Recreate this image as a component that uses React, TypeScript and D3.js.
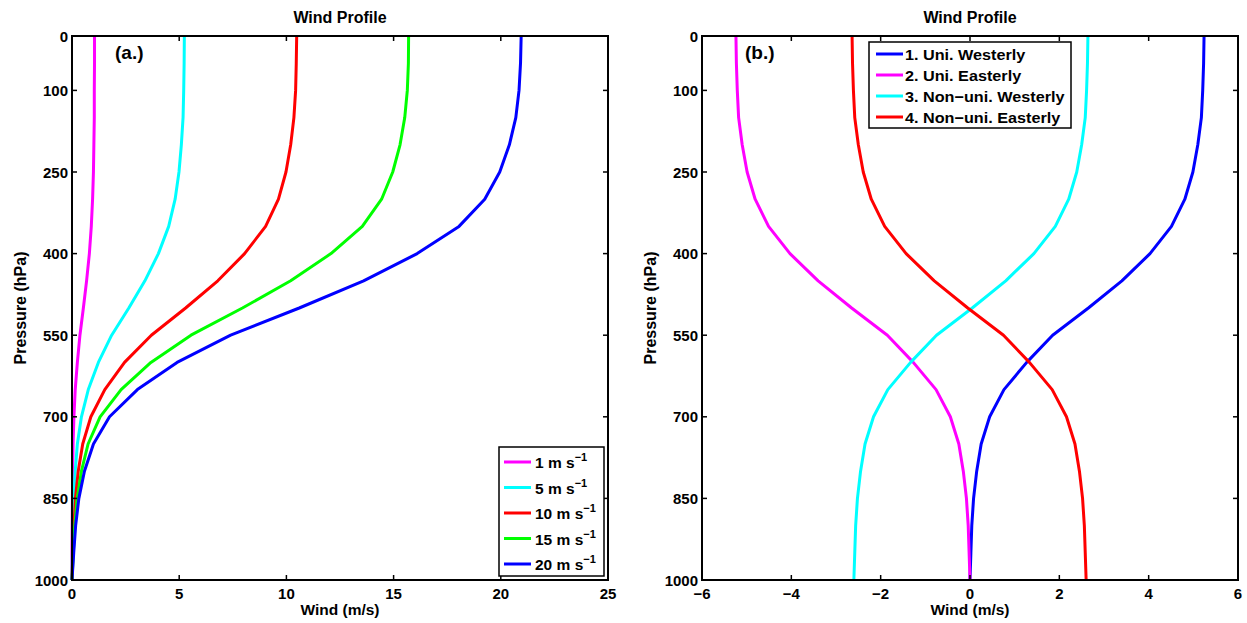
import React from 'react';
import * as d3 from 'd3';

// pressure levels (hPa)
const levels = [0, 50, 100, 150, 200, 250, 300, 350, 400, 450, 500, 550, 600, 650, 700, 750, 800, 850, 900, 950, 1000];

// panel (a.) : wind speed for each surface forcing
const u1 = [1.05, 1.05, 1.04, 1.04, 1.02, 1.0, 0.96, 0.9, 0.81, 0.68, 0.53, 0.37, 0.25, 0.15, 0.09, 0.05, 0.03, 0.02, 0.01, 0.0, 0.0];
const u5 = [5.24, 5.23, 5.21, 5.18, 5.1, 4.99, 4.81, 4.51, 4.03, 3.4, 2.65, 1.85, 1.23, 0.76, 0.44, 0.25, 0.15, 0.08, 0.04, 0.02, 0.0];
const u10 = [10.48, 10.46, 10.43, 10.35, 10.2, 9.98, 9.63, 9.03, 8.05, 6.8, 5.3, 3.7, 2.45, 1.53, 0.88, 0.5, 0.29, 0.16, 0.09, 0.04, 0.0];
const u15 = [15.7, 15.69, 15.64, 15.52, 15.3, 14.96, 14.44, 13.54, 12.08, 10.2, 7.95, 5.55, 3.68, 2.29, 1.31, 0.75, 0.44, 0.24, 0.13, 0.06, 0.0];
const u20 = [20.95, 20.92, 20.85, 20.7, 20.4, 19.95, 19.25, 18.05, 16.1, 13.6, 10.6, 7.4, 4.9, 3.05, 1.75, 1.0, 0.58, 0.32, 0.17, 0.08, 0.0];

// panel (b.) : four profile types
const uniWest = [5.24, 5.23, 5.21, 5.18, 5.1, 4.99, 4.81, 4.51, 4.03, 3.4, 2.65, 1.85, 1.27, 0.76, 0.44, 0.25, 0.15, 0.08, 0.04, 0.02, 0.0];
const uniEast = [-5.24, -5.23, -5.21, -5.18, -5.1, -4.99, -4.81, -4.51, -4.03, -3.4, -2.65, -1.85, -1.27, -0.76, -0.44, -0.25, -0.15, -0.08, -0.04, -0.02, 0.0];
const nonWest = [2.64, 2.63, 2.61, 2.58, 2.5, 2.39, 2.21, 1.91, 1.43, 0.8, 0.05, -0.75, -1.33, -1.84, -2.16, -2.35, -2.45, -2.52, -2.56, -2.58, -2.6];
const nonEast = [-2.64, -2.63, -2.61, -2.58, -2.5, -2.39, -2.21, -1.91, -1.43, -0.8, -0.05, 0.75, 1.33, 1.84, 2.16, 2.35, 2.45, 2.52, 2.56, 2.58, 2.6];

const pTicks = [0, 100, 250, 400, 550, 700, 850, 1000];
const xTicksA = [0, 5, 10, 15, 20, 25];
const xTicksB = [-6, -4, -2, 0, 2, 4, 6];

const seriesA = [
  { name: '1', values: u1, color: '#ff00ff' },
  { name: '5', values: u5, color: '#00ffff' },
  { name: '10', values: u10, color: '#ff0000' },
  { name: '15', values: u15, color: '#00ff00' },
  { name: '20', values: u20, color: '#0000ff' },
];
const seriesB = [
  { name: '1. Uni. Westerly', values: uniWest, color: '#0000ff' },
  { name: '2. Uni. Easterly', values: uniEast, color: '#ff00ff' },
  { name: '3. Non\u2212uni. Westerly', values: nonWest, color: '#00ffff' },
  { name: '4. Non\u2212uni. Easterly', values: nonEast, color: '#ff0000' },
];

const FONT = '"Liberation Sans", Arial, Helvetica, sans-serif';
const top = 36, bottom = 580;

function Panel({ left, right, domain, ticks, series, tag, children }) {
  const x = d3.scaleLinear().domain(domain).range([left, right]);
  const y = d3.scaleLinear().domain([0, 1000]).range([top, bottom]);
  const line = d3.line<number>().x(d => x(d)).y((d, i) => y(levels[i]));
  const cx = (left + right) / 2;
  const fmt = (t: number) => (t < 0 ? '\u2212' + Math.abs(t) : String(t));

  return (
    <g fontFamily={FONT} fontWeight="bold">
      <text x={cx} y={23} textAnchor="middle" fontSize={16}>Wind Profile</text>
      {series.map(s => (
        <path key={s.name} d={line(s.values)} fill="none" stroke={s.color} strokeWidth={3} strokeLinejoin="round" />
      ))}
      <rect x={left} y={top} width={right - left} height={bottom - top} fill="none" stroke="#000" strokeWidth={2} />
      {ticks.map(t => (
        <g key={t}>
          <line x1={x(t)} x2={x(t)} y1={bottom} y2={bottom - 5} stroke="#000" strokeWidth={1.5} />
          <line x1={x(t)} x2={x(t)} y1={top} y2={top + 5} stroke="#000" strokeWidth={1.5} />
          <text x={x(t)} y={599} textAnchor="middle" fontSize={15}>{fmt(t)}</text>
        </g>
      ))}
      {pTicks.map(p => (
        <g key={p}>
          <line x1={left} x2={left + 5} y1={y(p)} y2={y(p)} stroke="#000" strokeWidth={1.5} />
          <line x1={right} x2={right - 5} y1={y(p)} y2={y(p)} stroke="#000" strokeWidth={1.5} />
          <text x={left - 4} y={y(p) + 5.5} textAnchor="end" fontSize={15}>{p}</text>
        </g>
      ))}
      <text x={cx} y={615} textAnchor="middle" fontSize={15.5}>Wind (m/s)</text>
      <text transform={`translate(${left - 46},${(top + bottom) / 2}) rotate(-90)`} textAnchor="middle" fontSize={16}>Pressure (hPa)</text>
      <text x={left + 43} y={59} fontSize={19}>{tag}</text>
      {children}
    </g>
  );
}

export default function App() {
  return (
    <div style={{ position: 'absolute', left: 0, top: 0 }}>
      <svg width={1247} height={623} style={{ display: 'block', background: '#fff' }}>
        <Panel left={72} right={608} domain={[0, 25]} ticks={xTicksA} series={seriesA} tag="(a.)">
          <g fontFamily={FONT} fontWeight="bold">
            <rect x={499} y={447} width={105} height={129} fill="#fff" stroke="#000" strokeWidth={1.5} />
            {seriesA.map((s, i) => {
              const ly = 462 + i * 25.5;
              return (
                <g key={s.name}>
                  <line x1={504} x2={531} y1={ly} y2={ly} stroke={s.color} strokeWidth={3} />
                  <text x={535} y={ly + 6} fontSize={15.5}>
                    {s.name} m s<tspan dy={-7} fontSize={11}>{'\u22121'}</tspan>
                  </text>
                </g>
              );
            })}
          </g>
        </Panel>
        <Panel left={702} right={1238} domain={[-6, 6]} ticks={xTicksB} series={seriesB} tag="(b.)">
          <g fontFamily={FONT} fontWeight="bold">
            <rect x={869} y={42} width={202} height={86} fill="#fff" stroke="#000" strokeWidth={1.5} />
            {seriesB.map((s, i) => {
              const ly = 54 + i * 21;
              return (
                <g key={s.name}>
                  <line x1={876} x2={903} y1={ly} y2={ly} stroke={s.color} strokeWidth={3} />
                  <text transform={`translate(905,${ly + 5.5}) scale(1.08,1)`} fontSize={15}>{s.name}</text>
                </g>
              );
            })}
          </g>
        </Panel>
      </svg>
    </div>
  );
}
